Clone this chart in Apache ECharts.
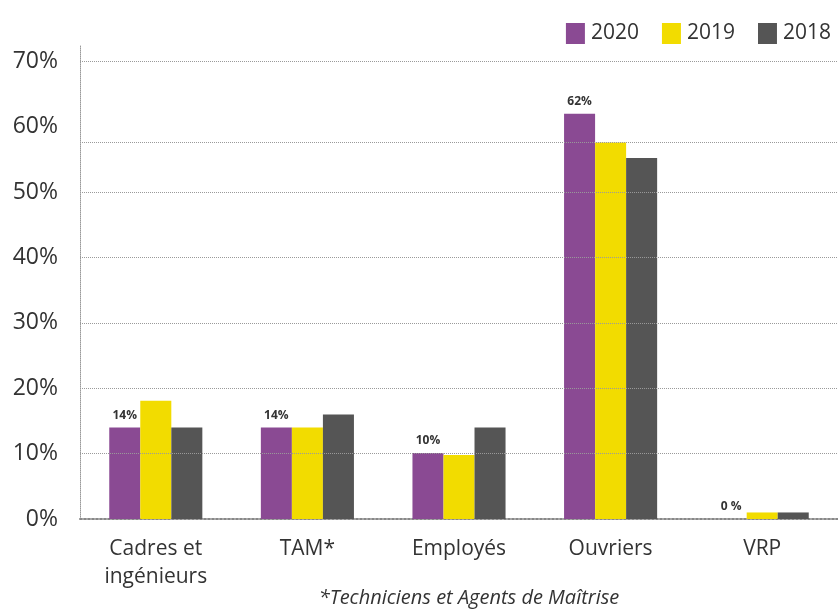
<!DOCTYPE html>
<html>
<head>
<meta charset="utf-8">
<script src="https://cdn.jsdelivr.net/npm/echarts@6/dist/echarts.min.js"></script>
<style>
  html, body { margin: 0; padding: 0; background: #fff; }
  #chart { width: 838px; height: 611px; }
</style>
</head>
<body>
<div id="chart"></div>
<script>
const categories = ['Cadres et\ningénieurs', 'TAM*', 'Employés', 'Ouvriers', 'VRP']
const years = ['2020', '2019', '2018']
const values2020 = [14, 14, 10.1, 62, 0]
const values2019 = [18.1, 14, 9.8, 57.6, 1]
const values2018 = [14, 16, 14, 55.2, 1]
const labels2020 = ['14%', '14%', '10%', '62%', '0 %']
const gridValues = [10, 20, 30, 40, 50, 57.6, 70]
const footnote = '*Techniciens et Agents de Maîtrise'

const colors = ['#8a4a93', '#f2dc00', '#555555']
const font = '"Open Sans", "Noto Sans", sans-serif'

const chart = echarts.init(document.getElementById('chart'))

const dotted = { color: '#9a9a9a', type: 'dotted', width: 1 }

chart.setOption({
  animation: false,
  color: colors,
  textStyle: { fontFamily: font },
  legend: {
    right: 2,
    top: 18,
    itemWidth: 19,
    itemHeight: 21,
    itemGap: 23,
    icon: 'rect',
    textStyle: { fontSize: 21, color: '#333', fontFamily: font, padding: [0, 0, 0, 1] },
    data: years
  },
  grid: { left: 80, right: 0, top: 45, bottom: 92 },
  xAxis: {
    type: 'category',
    data: categories,
    axisTick: { show: false },
    axisLine: { lineStyle: { color: '#888', type: 'dotted', width: 2 } },
    axisLabel: { color: '#333', fontSize: 21, lineHeight: 28, margin: 16, fontFamily: font }
  },
  yAxis: {
    type: 'value',
    min: 0,
    max: 72.5,
    interval: 10,
    axisLine: { show: true, lineStyle: dotted },
    axisTick: { show: false },
    splitLine: { show: false },
    axisLabel: {
      color: '#333',
      fontSize: 23,
      margin: 22,
      fontFamily: font,
      formatter: (v) => (v % 10 === 0 ? v + '%' : '')
    }
  },
  series: [
    {
      name: years[0],
      type: 'bar',
      data: values2020,
      barGap: '0%',
      barCategoryGap: '38.6%',
      label: {
        show: true,
        position: 'top',
        distance: 6,
        color: '#333',
        fontSize: 12,
        fontWeight: 'bold',
        formatter: (p) => labels2020[p.dataIndex]
      },
      markLine: {
        silent: true,
        symbol: 'none',
        label: { show: false },
        lineStyle: dotted,
        data: gridValues.map((v) => ({ yAxis: v }))
      }
    },
    { name: years[1], type: 'bar', data: values2019 },
    { name: years[2], type: 'bar', data: values2018 }
  ],
  graphic: [{
    type: 'text',
    x: 469,
    y: 598,
    style: {
      text: footnote,
      font: 'italic 20px ' + font,
      fill: '#333',
      align: 'center',
      verticalAlign: 'middle'
    }
  }]
})
</script>
</body>
</html>
